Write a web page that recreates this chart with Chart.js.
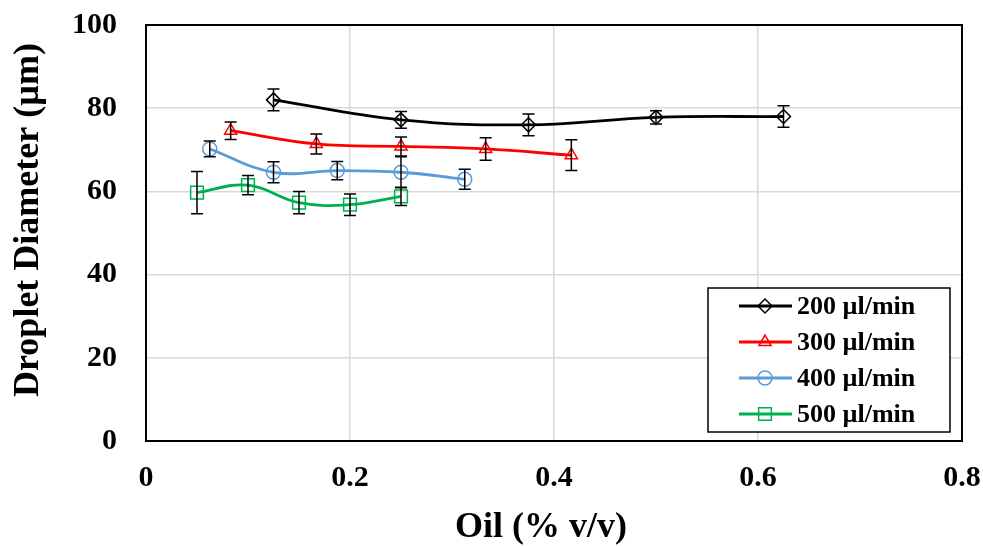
<!DOCTYPE html>
<html>
<head>
<meta charset="utf-8">
<script src="https://cdn.jsdelivr.net/npm/chart.js@4.4.1/dist/chart.umd.min.js"></script>
<style>
  html, body { margin: 0; padding: 0; background: #fff; }
  #wrap { width: 983px; height: 546px; }
</style>
</head>
<body>
<div id="wrap"><canvas id="chart_canvas" width="983" height="546"></canvas></div>
<script>
// data
var labels = ['200 µl/min', '300 µl/min', '400 µl/min', '500 µl/min'];

var x200 = [0.125, 0.25, 0.375, 0.5, 0.625];
var y200 = [82.0, 77.2, 76.0, 77.8, 78.0];
var e200 = [2.6, 2.0, 2.6, 1.6, 2.6];

var x300 = [0.083, 0.167, 0.25, 0.333, 0.417];
var y300 = [74.6, 71.4, 70.8, 70.2, 68.7];
var e300 = [2.1, 2.4, 2.3, 2.7, 3.7];

var x400 = [0.0625, 0.125, 0.1875, 0.25, 0.3125];
var y400 = [70.2, 64.6, 65.0, 64.6, 62.9];
var e400 = [1.9, 2.5, 2.2, 3.7, 2.4];

var x500 = [0.05, 0.1, 0.15, 0.2, 0.25];
var y500 = [59.7, 61.5, 57.3, 56.8, 58.8];
var e500 = [5.1, 2.3, 2.7, 2.6, 2.2];

var xTicks = [0, 0.2, 0.4, 0.6, 0.8];
var yTicks = [0, 20, 40, 60, 80, 100];
var xTitle = 'Oil (% v/v)';
var yTitle = 'Droplet Diameter (µm)';

var FONT = '"Liberation Serif", "Times New Roman", serif';

function pts(xs, ys, es) {
    var out = [];
    for (var i = 0; i < xs.length; i++) {
        out.push({x: xs[i], y: ys[i], err: es[i]});
    }
    return out;
}

function series(label, data, color, style, radius) {
    return {
        label: label,
        data: data,
        borderColor: color,
        borderWidth: 2.8,
        tension: 0.4,
        pointStyle: style,
        pointRadius: radius,
        pointHoverRadius: radius,
        pointBorderColor: color,
        pointBorderWidth: 1.5,
        pointBackgroundColor: 'rgba(0,0,0,0)',
        fill: false
    };
}

// top + right frame of the plot area
var frame = {
    id: 'frame',
    beforeDatasetsDraw: function(chart) {
        var a = chart.chartArea, c = chart.ctx;
        c.save();
        c.strokeStyle = '#000';
        c.lineWidth = 2;
        c.strokeRect(a.left, a.top, a.right - a.left, a.bottom - a.top);
        c.restore();
    }
};

// vertical error bars with caps
var errorBars = {
    id: 'errorBars',
    afterDatasetsDraw: function(chart) {
        var c = chart.ctx, ys = chart.scales.y;
        c.save();
        c.strokeStyle = '#000';
        c.lineWidth = 1.5;
        chart.data.datasets.forEach(function(ds, di) {
            var meta = chart.getDatasetMeta(di);
            ds.data.forEach(function(p, i) {
                var px = meta.data[i].x;
                var top = ys.getPixelForValue(p.y + p.err);
                var bot = ys.getPixelForValue(p.y - p.err);
                c.beginPath();
                c.moveTo(px, top); c.lineTo(px, bot);
                c.moveTo(px - 6, top); c.lineTo(px + 6, top);
                c.moveTo(px - 6, bot); c.lineTo(px + 6, bot);
                c.stroke();
            });
        });
        c.restore();
    }
};

// axis titles, placed like the original (slightly off centre)
var axisTitles = {
    id: 'axisTitles',
    afterDraw: function(chart) {
        var c = chart.ctx;
        c.save();
        c.fillStyle = '#000';
        c.font = 'bold 36px ' + FONT;
        c.textAlign = 'center';
        c.textBaseline = 'alphabetic';
        c.fillText(xTitle, 541, 537);
        c.translate(38, 220);
        c.rotate(-Math.PI / 2);
        c.fillText(yTitle, 0, 0);
        c.restore();
    }
};

// boxed legend inside the plot, lower right
var boxLegend = {
    id: 'boxLegend',
    afterDraw: function(chart) {
        var c = chart.ctx;
        var bx = 708, by = 288, bw = 242, bh = 144;
        c.save();
        c.fillStyle = '#fff';
        c.fillRect(bx, by, bw, bh);
        c.strokeStyle = '#000';
        c.lineWidth = 1.5;
        c.strokeRect(bx, by, bw, bh);
        c.font = 'bold 26px ' + FONT;
        c.textBaseline = 'middle';
        c.textAlign = 'left';
        chart.data.datasets.forEach(function(ds, i) {
            var cy = by + 18 + i * 36;
            c.strokeStyle = ds.borderColor;
            c.lineWidth = 2.8;
            c.beginPath();
            c.moveTo(739, cy); c.lineTo(792, cy);
            c.stroke();
            c.lineWidth = 1.5;
            c.fillStyle = 'rgba(0,0,0,0)';
            Chart.helpers.drawPoint(c, {pointStyle: ds.pointStyle, radius: ds.pointRadius, borderWidth: 1.5}, 765, cy);
            c.fillStyle = '#000';
            c.fillText(ds.label, 797, cy + 1);
        });
        c.restore();
    }
};

var ctx = document.getElementById('chart_canvas').getContext('2d');
var myChart = new Chart(ctx, {
    type: 'line',
    data: {
        datasets: [
            series(labels[0], pts(x200, y200, e200), '#000000', 'rectRot', 7),
            series(labels[1], pts(x300, y300, e300), '#FF0000', 'triangle', 7),
            series(labels[2], pts(x400, y400, e400), '#5B9BD5', 'circle', 7),
            series(labels[3], pts(x500, y500, e500), '#00B050', 'rect', 9)
        ]
    },
    options: {
        responsive: false,
        animation: false,
        layout: { padding: { left: 0, right: 21, top: 25, bottom: 0 } },
        plugins: {
            legend: { display: false },
            tooltip: { enabled: false }
        },
        scales: {
            x: {
                type: 'linear',
                min: 0, max: 0.8,
                afterBuildTicks: function(s) { s.ticks = xTicks.map(function(v) { return {value: v}; }); },
                afterFit: function(s) { s.height = 105; s.paddingLeft = 0; s.paddingRight = 0; },
                grid: { color: '#D9D9D9', lineWidth: 1.5, drawTicks: false },
                border: { color: '#000', width: 2 },
                ticks: {
                    color: '#000',
                    padding: 19,
                    font: { family: FONT, size: 30, weight: 'bold' },
                    callback: function(v) { return String(Math.round(v * 10) / 10); }
                }
            },
            y: {
                min: 0, max: 100,
                afterBuildTicks: function(s) { s.ticks = yTicks.map(function(v) { return {value: v}; }); },
                afterFit: function(s) { s.width = 146; s.paddingTop = 0; s.paddingBottom = 0; },
                grid: { color: '#D9D9D9', lineWidth: 1.5, drawTicks: false },
                border: { color: '#000', width: 2 },
                ticks: {
                    color: '#000',
                    padding: 29,
                    font: { family: FONT, size: 30, weight: 'bold' }
                }
            }
        }
    },
    plugins: [frame, errorBars, axisTitles, boxLegend]
});
</script>
</body>
</html>
